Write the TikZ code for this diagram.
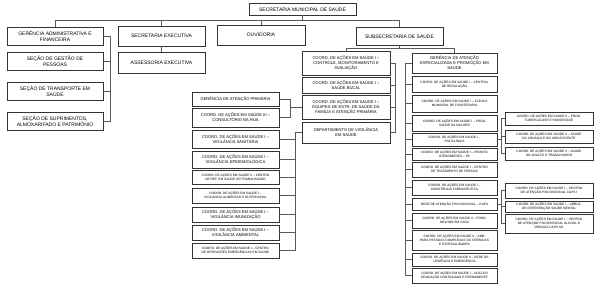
\documentclass[tikz,border=0pt]{standalone}
\usepackage{fontspec}
\setmainfont{Liberation Sans}
\tikzset{
  box/.style={draw=black!80, line width=0.8pt, fill=white, inner sep=0.4pt, align=center, font=\fontsize{4.1}{4.9}\selectfont},
  topb/.style={box, font=\fontsize{5}{6}\selectfont},
  midb/.style={box},
  smb/.style={box, font=\fontsize{3.2}{3.9}\selectfont},
  conn/.style={draw=black!65, line width=0.5pt},
}
\newcommand{\orgbox}[7]{\node[#1,minimum width={#4pt-#2pt},minimum height={#5pt-#3pt}] (#6) at ({(#2+#4)/2},{(#3+#5)/2}) {#7};}
\begin{document}
\begin{tikzpicture}[x=1pt,y=-1pt]
\useasboundingbox[fill=white] (0,0) rectangle (605,292);
% top levels
\orgbox{topb}{249}{3}{356}{15}{top}{SECRETARIA MUNICIPAL DE SAÚDE}
\orgbox{topb}{7}{27}{103}{45}{ger}{GERÊNCIA ADMINISTRATIVA E\\FINANCEIRA}
\orgbox{topb}{7}{52}{103}{70}{gp}{SEÇÃO DE GESTÃO DE\\PESSOAS}
\orgbox{topb}{7}{82}{103}{100}{tr}{SEÇÃO DE TRANSPORTE EM\\SAÚDE}
\orgbox{topb}{7}{112}{103}{130}{sup}{SEÇÃO DE SUPRIMENTOS,\\ALMOXARIFADO E PATRIMÔNIO}
\orgbox{topb}{118}{26}{205}{46}{sexe}{SECRETARIA EXECUTIVA}
\orgbox{topb}{118}{52}{205}{73}{asse}{ASSESSORIA EXECUTIVA}
\orgbox{topb}{217}{25}{305}{45}{ouv}{OUVIDORIA}
\orgbox{topb}{356}{27}{443}{45}{sub}{SUBSECRETARIA DE SAÚDE}
% subsecretaria left column
\orgbox{midb}{302}{51}{390}{75}{ctrl}{COORD. DE AÇÕES EM SAÚDE I –\\CONTROLE, MONITORAMENTO E\\AVALIAÇÃO}
\orgbox{midb}{302}{77}{390}{93}{buc}{COORD. DE AÇÕES EM SAÚDE I –\\SAÚDE BUCAL}
\orgbox{midb}{302}{95}{390}{119}{eq}{COORD. DE AÇÕES EM SAÚDE I –\\EQUIPES DE ESTR. DE SAÚDE DA\\FAMÍLIA E ATENÇÃO PRIMÁRIA}
\orgbox{midb}{302}{122}{390}{143}{dept}{DEPARTAMENTO DE VIGILÂNCIA\\EM SAÚDE}
% subsecretaria right column
\orgbox{midb}{412}{53}{497}{73}{gae}{GERÊNCIA DE ATENÇÃO\\ESPECIALIZADA E PROMOÇÃO EM\\SAÚDE}
\orgbox{smb}{412}{76}{497}{92}{reg}{COORD. DE AÇÕES EM SAÚDE I – CENTRAL\\DE REGULAÇÃO}
\orgbox{smb}{412}{95}{497}{112}{fis}{COORD. DE AÇÕES EM SAÚDE I – CLÍNICA\\MUNICIPAL DE FISIOTERAPIA}
\orgbox{smb}{412}{115}{497}{131}{mul}{COORD. DE AÇÕES EM SAÚDE I – PROG.\\SAÚDE DA MULHER}
\orgbox{smb}{412}{133}{497}{146}{pol}{COORD. DE AÇÕES EM SAÚDE I –\\POLICLÍNICA}
\orgbox{smb}{412}{148}{497}{160}{pa}{COORD. DE AÇÕES EM SAÚDE I – PRONTO\\ATENDIMENTO – PA}
\orgbox{smb}{412}{162}{497}{177}{fer}{COORD. DE AÇÕES EM SAÚDE I – CENTRO\\DE TRATAMENTO DE FERIDAS}
\orgbox{smb}{412}{180}{497}{195}{far}{COORD. DE AÇÕES EM SAÚDE I –\\ASSISTÊNCIA FARMACÊUTICA}
\orgbox{smb}{412}{198}{497}{210}{raps}{REDE DE ATENÇÃO PSICOSSOCIAL – RAPS}
\orgbox{smb}{412}{213}{497}{228}{cas}{COORD. DE AÇÕES EM SAÚDE II – PROG.\\MELHOR EM CASA}
\orgbox{smb}{412}{230}{497}{250}{amb}{COORD. DE AÇÕES EM SAÚDE II – AMB.\\PARA PESSOAS COMPLEXAS OU CRÔNICAS\\E ESPECIALIDADES}
\orgbox{smb}{412}{253}{497}{266}{urg}{COORD. DE AÇÕES EM SAÚDE II – REDE DE\\URGÊNCIA E EMERGÊNCIA}
\orgbox{smb}{412}{268}{497}{283}{nuc}{COORD. DE AÇÕES EM SAÚDE I – NÚCLEO\\EDUCAÇÃO CONTINUADA E PERMANENTE}
% group A
\orgbox{smb}{505}{112}{593}{125}{ta}{COORD. DE AÇÕES EM SAÚDE II – PROG.\\TUBERCULOSE E HANSENÍASE}
\orgbox{smb}{505}{130}{593}{143}{ca}{COORD. DE AÇÕES EM SAÚDE II – SAÚDE\\DA CRIANÇA E DO ADOLESCENTE}
\orgbox{smb}{505}{147}{593}{160}{aa}{COORD. DE AÇÕES EM SAÚDE II – SAÚDE\\DO ADULTO E TRABALHADOR}
% group B
\orgbox{smb}{505}{183}{593}{198}{bo}{COORD. DE AÇÕES EM SAÚDE I – CENTRO\\DE ATENÇÃO PSICOSSOCIAL CAPS I}
\orgbox{smb}{505}{201}{593}{212}{bt}{COORD. DE AÇÕES EM SAÚDE I – AMBUL.\\DE INTERVENÇÃO SAÚDE MENTAL}
\orgbox{smb}{505}{214}{593}{233}{bh}{COORD. DE AÇÕES EM SAÚDE I – CENTRO\\DE ATENÇÃO PSICOSSOCIAL ÁLCOOL E\\DROGAS CAPS AD}
% middle-left cluster
\orgbox{midb}{192}{92}{279}{106}{gap}{GERÊNCIA DE ATENÇÃO PRIMÁRIA}
\orgbox{midb}{192}{108}{279}{127}{cr}{COORD. DE AÇÕES EM SAÚDE III –\\CONSULTÓRIO NA RUA}
\orgbox{midb}{192}{130}{279}{148}{va}{COORD. DE AÇÕES EM SAÚDE I –\\VIGILÂNCIA SANITÁRIA}
\orgbox{midb}{192}{151}{279}{168}{vb}{COORD. DE AÇÕES EM SAÚDE I –\\VIGILÂNCIA EPIDEMIOLÓGICA}
\orgbox{smb}{192}{170}{279}{184}{vc}{COORD. DE AÇÕES EM SAÚDE II – CENTRO\\DE REF. EM SAÚDE DO TRABALHADOR}
\orgbox{smb}{192}{188}{279}{203}{vd}{COORD. DE AÇÕES EM SAÚDE I –\\VIGILÂNCIA ALIMENTAR E NUTRICIONAL}
\orgbox{midb}{192}{207}{279}{222}{ve}{COORD. DE AÇÕES EM SAÚDE I –\\VIGILÂNCIA IMUNIZAÇÃO}
\orgbox{midb}{192}{225}{279}{240}{vf}{COORD. DE AÇÕES EM SAÚDE I –\\VIGILÂNCIA AMBIENTAL}
\orgbox{smb}{192}{243}{279}{258}{vg}{COORD. DE AÇÕES EM SAÚDE I – CENTRO\\DE OPERAÇÕES EMERGÊNCIAS EM SAÚDE}
% helper coordinates
\coordinate (bus) at (0,20);
\coordinate (gb) at (110,0);
\coordinate (sb) at (0,48);
\coordinate (lb) at (395,0);
\coordinate (rb) at (405,0);
\coordinate (ab) at (501,0);
\coordinate (pb) at (290,0);
\coordinate (vbr) at (295,0);
% connectors
\draw[conn] (ger.north) |- (bus -| sub.north) -- (sub.north);
\draw[conn] (top.south) -- (top.south |- bus);
\draw[conn] (sexe.north) -- (sexe.north |- bus);
\draw[conn] (ouv.north) -- (ouv.north |- bus);
\draw[conn] (ger.east) -| (gb |- sup.east) -- (sup.east);
\draw[conn] (gp.east) -- (gb |- gp.east);
\draw[conn] (tr.east) -- (gb |- tr.east);
\draw[conn] (sexe.south) -- (asse.north);
\draw[conn] (sub.south) -- (sub.south |- sb);
\draw[conn] (ctrl.north) |- (sb -| gae.north) -- (gae.north);
\draw[conn] (ctrl.east) -| (lb |- dept.east) -- (dept.east);
\draw[conn] (buc.east) -- (lb |- buc.east);
\draw[conn] (eq.east) -- (lb |- eq.east);
\draw[conn] (gae.west) -| (rb |- nuc.west) -- (nuc.west);
\foreach \n in {reg,fis,mul,pol,pa,fer,far,raps,cas,amb,urg}
  \draw[conn] (\n.west) -- (rb |- \n.west);
\draw[conn] (pol.east) -- (ab |- pol.east);
\draw[conn] (ta.west) -| (ab |- aa.west) -- (aa.west);
\draw[conn] (ca.west) -- (ab |- ca.west);
\draw[conn] (raps.east) -- (ab |- raps.east);
\draw[conn] (bo.west) -| (ab |- bh.west) -- (bh.west);
\draw[conn] (bt.west) -- (ab |- bt.west);
\draw[conn] (gap.east) -| (pb |- cr.east) -- (cr.east);
\draw[conn] (eq.west) -- (pb |- eq.west);
\draw[conn] (dept.west) -| (vbr |- vg.east) -- (vg.east);
\foreach \n in {va,vb,vc,vd,ve,vf}
  \draw[conn] (\n.east) -- (vbr |- \n.east);
\end{tikzpicture}
\end{document}
